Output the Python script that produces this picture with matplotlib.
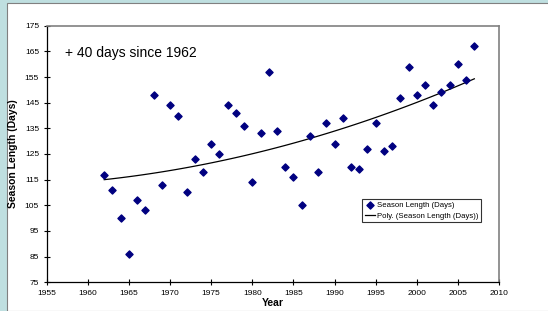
import matplotlib
matplotlib.use("Agg")
import matplotlib.pyplot as plt
import numpy as np
from matplotlib.patches import Rectangle

plt.rcParams['font.family'] = ['Liberation Sans', 'DejaVu Sans']

years = list(range(1962, 2008))
season_days = [117, 111, 100, 86, 107, 103, 148, 113, 144, 140,
               110, 123, 118, 129, 125, 144, 141, 136, 114, 133,
               157, 134, 120, 116, 105, 132, 118, 137, 129, 139,
               120, 119, 127, 137, 126, 128, 147, 159, 148, 152,
               144, 149, 152, 160, 154, 167]

fig = plt.figure(figsize=(5.48, 3.11), dpi=100)
fig.patch.set_facecolor("#bfdfe0")
# white chart area like the Excel chart object
fig.patches.append(Rectangle((7 / 548, 0), 1, 1 - 3 / 311, transform=fig.transFigure,
                             facecolor="white", edgecolor="#808080", linewidth=0.8, zorder=-1))

ax = fig.add_axes([46.7 / 548, 1 - 282.3 / 311, (499 - 46.7) / 548, (282.3 - 25.7) / 311])
ax.set_zorder(1)

ax.scatter(years, season_days, marker="D", s=13, color="#000080", zorder=3,
           label="Season Length (Days)")

# 2nd order polynomial trend line
coef = np.polyfit(years, season_days, 2)
xs = np.linspace(years[0], years[-1], 100)
ax.plot(xs, np.polyval(coef, xs), color="black", linewidth=0.9,
        label="Poly. (Season Length (Days))")

ax.set_xlim(1955, 2010)
ax.set_ylim(75, 175)
ax.set_xticks(range(1955, 2011, 5))
ax.set_yticks(range(75, 176, 10))
ax.tick_params(direction="inout", length=4, width=0.8, labelsize=6, colors="black")
for s in ["left", "bottom"]:
    ax.spines[s].set_color("black")
    ax.spines[s].set_linewidth(0.9)
for s in ["right", "top"]:
    ax.spines[s].set_color("#808080")
    ax.spines[s].set_linewidth(1.2)

ax.set_xlabel("Year", fontsize=7.5, fontweight="bold", labelpad=1)
ax.set_ylabel("Season Length (Days)", fontsize=7.5, fontweight="bold", labelpad=5)

ax.text(1957.2, 164.2, "+ 40 days since 1962", fontsize=10, va="center")

leg = ax.legend(loc="upper left", bbox_to_anchor=(0.698, 0.325), fontsize=5.6,
                frameon=True, fancybox=False, handlelength=1.3, handletextpad=0.3,
                borderpad=0.3, labelspacing=0.5, borderaxespad=0)
leg.get_frame().set_edgecolor("black")
leg.get_frame().set_linewidth(0.8)

fig.savefig("out.png", dpi=100, facecolor=fig.get_facecolor())
